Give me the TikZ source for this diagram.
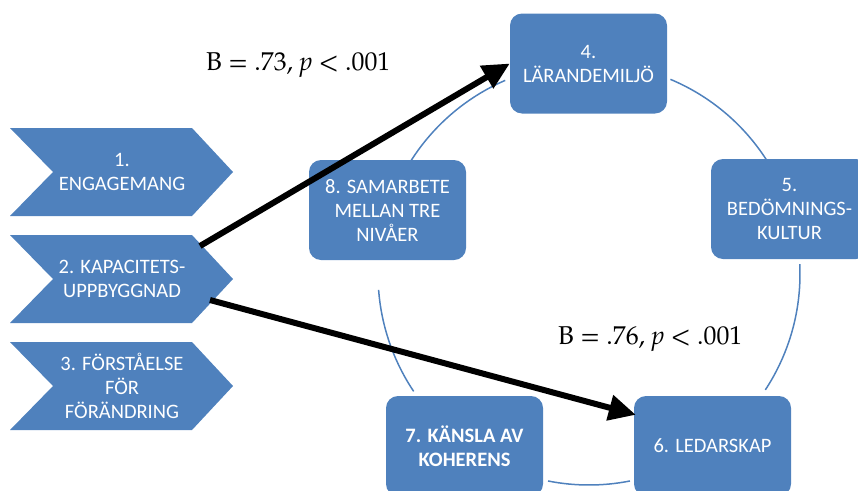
\documentclass[tikz,border=0pt]{standalone}
\usepackage{fontspec}
\setmainfont{Carlito}
\newfontfamily\pal{TeX Gyre Pagella}
\usetikzlibrary{arrows.meta,calc}
\definecolor{acc}{HTML}{4F81BD}
\begin{document}
\begin{tikzpicture}[x=1pt,y=-1pt,
  lbl/.style={font=\fontsize{20.5}{24}\selectfont, text=white, align=center, inner sep=0pt},
  box/.style={fill=acc, rounded corners=12pt, minimum width=157pt, minimum height=100pt,
              text=white, align=center, font=\fontsize{20.5}{24}\selectfont, inner sep=0pt},
  ring/.style={draw=acc, line width=1.5pt},
  arr/.style={line width=6pt, draw=black, -{Triangle[length=27pt,width=25pt]}},
  stat/.style={font=\pal\fontsize{25.8}{30}\selectfont, anchor=base west, inner sep=0pt}]
\path[use as bounding box] (0,0) rectangle (858,490);
\clip (0,0) rectangle (858,490);

% ring arcs
\coordinate (cc) at (589,274);
\foreach \a/\b in {-67.3/-31.7, -2.7/33.3, 78.8/101.2, 146.2/175.7, 211.2/246.6}
  \draw[ring] ($(cc)+(\a:211)$) arc[start angle=\a, end angle=\b, radius=211];

% chevrons
\foreach \t in {128,235,342}
  \fill[acc] (10,\t) -- (192,\t) -- (233,\t+44) -- (192,\t+88) -- (10,\t+88) -- (53,\t+44) -- cycle;
\node[lbl] (c1) at (122,172) {1.\\ENGAGEMANG};
\node[lbl] (c2) at (122,279) {2. KAPACITETS-\\UPPBYGGNAD};
\node[lbl] (c3) at (122,386) {3. FÖRSTÅELSE\\FÖR\\FÖRÄNDRING};

% boxes
\node[box] (b4) at (588.5,63.5) {4.\\LÄRANDEMILJÖ};
\node[box] (b5) at (789.5,209) {5.\\BEDÖMNINGS-\\KULTUR};
\node[box] (b6) at (712.5,446) {6. LEDARSKAP};
\node[box, font=\bfseries\fontsize{20.5}{24}\selectfont] (b7) at (464.5,446) {7. KÄNSLA AV\\KOHERENS};
\node[box] (b8) at (387.5,210) {8. SAMARBETE\\MELLAN TRE\\NIVÅER};

% arrows
\coordinate (s1) at (200,246);
\coordinate (s2) at (210,300);
\coordinate (e2) at ($(b6.north west)+(2,19)$);
\draw[arr] (s1) -- (b4.west);
\draw[arr] (s2) -- (e2);

% statistics
\node[stat] (t1) at (206,70) {B = .73, \textit{p} < .001};
\node[stat] (t2) at (558,344) {B = .76, \textit{p} < .001};
\end{tikzpicture}
\end{document}
